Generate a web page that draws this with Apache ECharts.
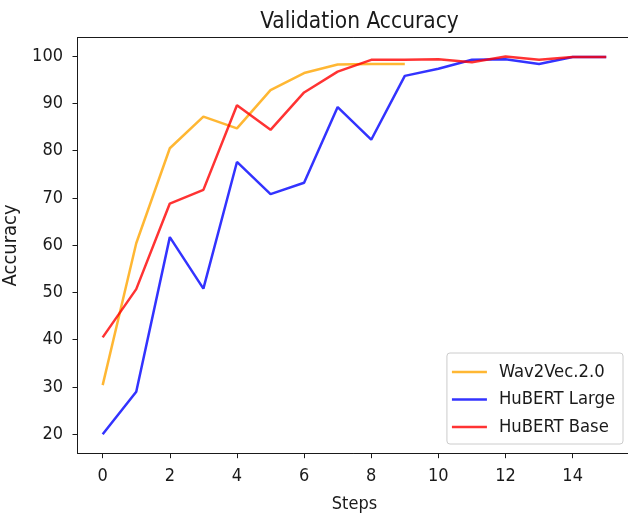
<!DOCTYPE html>
<html><head><meta charset="utf-8">
<script src="https://cdn.jsdelivr.net/npm/echarts@6/dist/echarts.min.js"></script>
<style>html,body{margin:0;padding:0;background:#fff}#c{width:628px;height:516px}</style>
</head><body><div id="c"></div>
<script>
const steps = [0,1,2,3,4,5,6,7,8,9,10,11,12,13,14,15];
const wav2vec = [30.4, 60.4, 80.5, 87.2, 84.7, 92.8, 96.4, 98.2, 98.3, 98.3];
const hubertLarge = [20.0, 29.0, 61.7, 50.8, 77.6, 70.8, 73.2, 89.2, 82.3, 95.8, 97.3, 99.2, 99.3, 98.3, 99.8, 99.8];
const hubertBase = [40.5, 50.7, 68.8, 71.7, 89.6, 84.4, 92.3, 96.7, 99.2, 99.2, 99.3, 98.7, 99.9, 99.2, 99.8, 99.8];
const xTicks = [0,2,4,6,8,10,12,14];
const yTicks = [20,30,40,50,60,70,80,90,100];
const seriesNames = ['Wav2Vec.2.0','HuBERT Large','HuBERT Base'];
const seriesColors = ['#ffa500','#0000ff','#ff0000'];

const FONT = "'Liberation Sans Narrow', 'DejaVu Sans Condensed', 'DejaVu Sans'";
const INK = '#1a1a1a';
const pairs = arr => arr.map((v,i)=>[steps[i], v]);
const allData = [wav2vec, hubertLarge, hubertBase];

const chart = echarts.init(document.getElementById('c'), null, {renderer:'canvas'});
chart.setOption({
  animation: false,
  backgroundColor: '#fff',
  textStyle: {fontFamily: FONT},
  title: {
    text: 'Validation Accuracy',
    left: 354.5, top: 6, textAlign: 'center',
    textStyle: {fontFamily: FONT, fontSize: 22.5, fontWeight: 'normal', color: INK}
  },
  grid: {left: 77.5, right: -3.4, top: 37.6, bottom: 62.8, show: false,
         containLabel: false, outerBoundsMode: 'none'},
  legend: {
    orient: 'vertical', right: 5, bottom: 72,
    data: seriesNames,
    icon: 'rect', itemWidth: 35, itemHeight: 2.5, itemGap: 7.5,
    padding: [9, 8, 7, 5],
    backgroundColor: 'rgba(255,255,255,0.8)',
    borderColor: '#cccccc', borderWidth: 1, borderRadius: 3,
    textStyle: {fontFamily: FONT, fontSize: 18.3, color: INK, lineHeight: 20, padding: [0,0,0,7]},
    itemStyle: {opacity: 0.8}
  },
  xAxis: [{
    type: 'value', min: -0.75, max: 15.75, position: 'bottom',
    name: 'Steps', nameLocation: 'middle', nameGap: 42,
    nameTextStyle: {fontFamily: FONT, fontSize: 18, color: INK},
    axisLine: {show: true, onZero: false, lineStyle: {color: INK, width: 1}},
    axisTick: {show: true, length: 5, lineStyle: {color: INK}, customValues: xTicks},
    axisLabel: {fontFamily: FONT, fontSize: 18, color: INK, margin: 14, customValues: xTicks},
    splitLine: {show: false}
  }, {
    type: 'value', min: -0.75, max: 15.75, position: 'top',
    axisLine: {show: true, onZero: false, lineStyle: {color: INK, width: 1}},
    axisTick: {show: false}, axisLabel: {show: false}, splitLine: {show: false}
  }],
  yAxis: {
    type: 'value', min: 16.0, max: 103.9,
    name: 'Accuracy', nameLocation: 'middle', nameGap: 46, nameRotate: 90,
    nameTextStyle: {fontFamily: FONT, fontSize: 20, color: INK},
    axisLine: {show: true, onZero: false, lineStyle: {color: INK, width: 1}},
    axisTick: {show: true, length: 5, lineStyle: {color: INK}, customValues: yTicks},
    axisLabel: {fontFamily: FONT, fontSize: 18, color: INK, margin: 14.5, customValues: yTicks},
    splitLine: {show: false}
  },
  series: seriesNames.map((n, k) => ({
    name: n, type: 'line', data: pairs(allData[k]),
    showSymbol: false, symbol: 'none',
    color: seriesColors[k],
    lineStyle: {width: 2.5, color: seriesColors[k], opacity: 0.8},
    itemStyle: {color: seriesColors[k]},
    z: 2 + k
  }))
});
</script></body></html>
